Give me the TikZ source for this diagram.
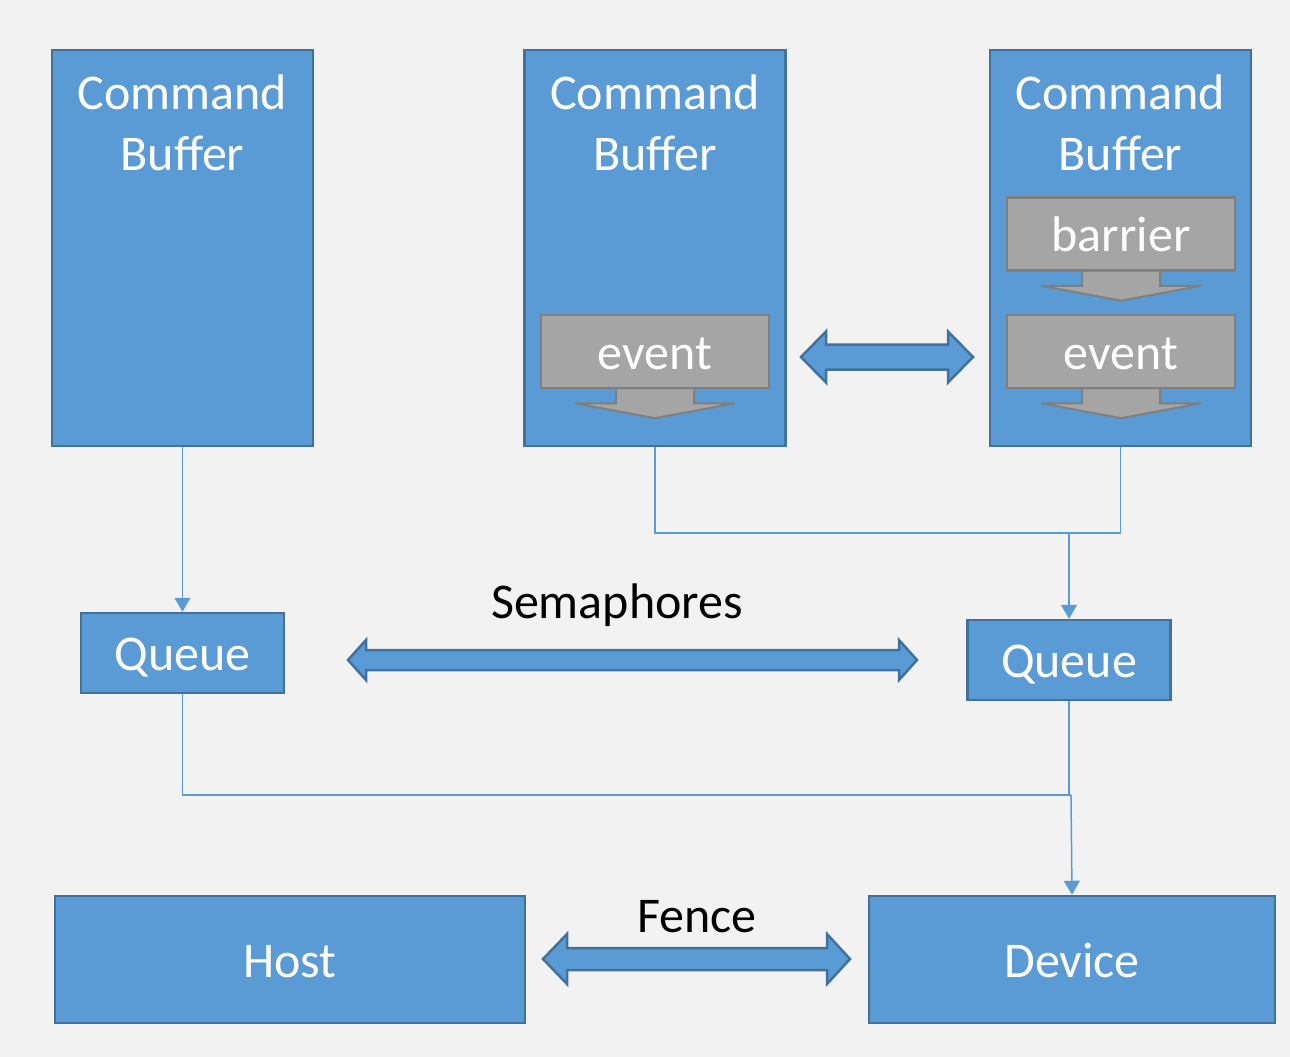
\documentclass[tikz,border=0pt]{standalone}
\usepackage{fontspec}
\setmainfont{Carlito}
\usetikzlibrary{positioning, arrows.meta, calc}

\definecolor{boxblue}{HTML}{5B9BD5}
\definecolor{boxedge}{HTML}{41719C}
\definecolor{stagegray}{HTML}{A5A5A5}
\definecolor{stageedge}{HTML}{7F7F7F}
\definecolor{bgcol}{HTML}{F2F2F2}

\begin{document}
\begin{tikzpicture}[x=1pt, y=-1pt]
	% Define styles
	\tikzset{
		block/.style={rectangle, draw=boxedge, line width=2.5pt, fill=boxblue, text=white, inner sep=0pt, text height=35pt, text depth=0pt, font=\fontsize{50}{61}\selectfont},
		cmdbuf/.style={block, minimum width=261pt, minimum height=396pt},
		queue/.style={block, minimum width=203pt, minimum height=80pt},
		unit/.style={block, minimum height=127pt},
		stage/.style={rectangle, draw=stageedge, line width=2.5pt, fill=stagegray, text=white, inner sep=0pt, text height=35pt, text depth=0pt, minimum width=228pt, minimum height=73pt, font=\fontsize{50}{61}\selectfont},
		stagearrow/.style={draw=stageedge, line width=2pt, fill=stagegray},
		fatarrow/.style={draw=boxedge, line width=2.5pt, fill=boxblue},
		title/.style={text=white, align=center, inner sep=0pt, font=\fontsize{50}{61}\selectfont},
		caption/.style={text=black, inner sep=0pt, text height=35pt, text depth=0pt, font=\fontsize{50}{61}\selectfont},
		line/.style={draw=boxblue, line width=1.5pt},
		arrow/.style={line, -{Triangle[width=16pt, length=14pt]}}
	}
	
	% Background
	\fill[bgcol] (0,0) rectangle (1290,1057);
	
	% Command buffers
	\node[cmdbuf] (cb1) at (182.5,248) {};
	\node[cmdbuf] (cb2) at (655,248) {};
	\node[cmdbuf] (cb3) at (1120.5,248) {};
	\node[title] (cb1text) at (182.5,123) {Command\\Buffer};
	\node[title] (cb2text) at (655,123) {Command\\Buffer};
	\node[title] (cb3text) at (1120.5,123) {Command\\Buffer};
	
	\node[stage] (ev2) at (655,351.5) {event};
	\node[stage] (bar3) at (1121,234) {barrier};
	\node[stage] (ev3) at (1121,351.5) {event};
	
	\foreach \s in {ev2, bar3, ev3}
		\draw[stagearrow] ($(\s.south)+(-39,0)$) -- ++(0,14) -- ++(-41,0) -- ($(\s.south)+(0,29)$)
			-- ($(\s.south)+(80,14)$) -- ++(-41,0) -- ++(0,-14);
	
	% Queues
	\node[queue] (q1) at (182.5,653) {Queue};
	\node[queue] (q2) at (1069,660) {Queue};
	
	% Host and device
	\node[unit, minimum width=470pt] (host) at (290,959.5) {Host};
	\node[unit, minimum width=406pt] (device) at (1072,959.5) {Device};
	
	% Labels
	\node[caption] (semlabel) at (617,600.5) {Semaphores};
	\node[caption] (fencelabel) at (697,914.5) {Fence};
	
	% Fat arrows
	\draw[fatarrow] (801,357) -- (826,331.5) -- (826,344.5) -- (948,344.5) -- (948,331.5) -- (973,357)
		-- (948,382.5) -- (948,369.5) -- (826,369.5) -- (826,382.5) -- cycle;
	\draw[fatarrow] (348,660) -- (366,640) -- (366,650) -- (899,650) -- (899,640) -- (917,660)
		-- (899,680) -- (899,670) -- (366,670) -- (366,680) -- cycle;
	\draw[fatarrow] (543,959) -- (567,934) -- (567,948) -- (827,948) -- (827,934) -- (850,959)
		-- (827,984) -- (827,970) -- (567,970) -- (567,984) -- cycle;
	
	% Connectors
	\coordinate (join1) at (1069,533);
	\coordinate (join2) at (1071,795);
	
	\draw[arrow] (cb1.south) -- (q1.north);
	\draw[line] (cb2.south) |- (join1) -| (cb3.south);
	\draw[arrow] (join1) -- (q2.north);
	
	\draw[line] (q1.south) |- (join2);
	\draw[line] (q2.south) |- (join2);
	\draw[arrow] (join2) -- (device.north);
	
\end{tikzpicture}
\end{document}
